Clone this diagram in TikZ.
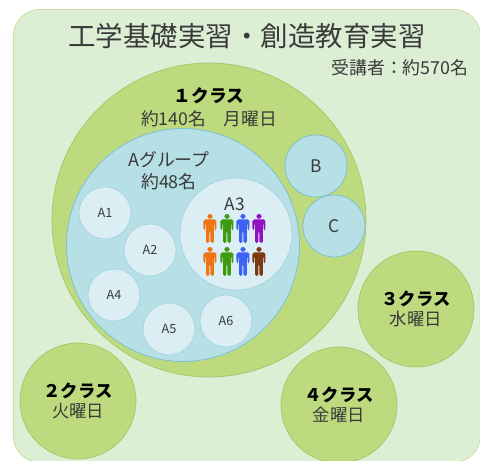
\documentclass[tikz,border=0pt]{standalone}
\usepackage{fontspec}
\setmainfont{Noto Sans CJK JP}
\usepackage{xcolor}
\definecolor{bgGreen}{HTML}{DCEFD5}
\definecolor{bgEdge}{HTML}{C9DF9A}
\definecolor{classGreen}{HTML}{BDDA7E}
\definecolor{classEdge}{HTML}{9CC76A}
\definecolor{groupBlue}{HTML}{B7DFE6}
\definecolor{groupEdge}{HTML}{7FC0D2}
\definecolor{subBlue}{HTML}{DAEEF3}
\definecolor{txtGray}{HTML}{3A3A3A}
\definecolor{manOrange}{HTML}{EE7511}
\definecolor{manGreen}{HTML}{3E9A0E}
\definecolor{manBlue}{HTML}{3D60F5}
\definecolor{manPurple}{HTML}{9012BE}
\definecolor{manBrown}{HTML}{7B3A10}
\newcommand{\wide}[1]{\symbol{\numexpr"FF10+#1\relax}} % full-width digit
\newcommand{\clsname}[1]{\textcolor{black}{\textbf{\wide{#1}クラス}}}

\begin{document}
\begin{tikzpicture}[
    x=0.75pt, y=-0.75pt, % 1 unit = 1 pixel, y runs downward
    circ/.style={circle, inner sep=0pt, minimum size=#1*1.5pt, text=txtGray, align=center},
    classc/.style={circ=#1, draw=classEdge, line width=0.5pt, fill=classGreen},
    groupc/.style={circ=#1, draw=groupEdge, line width=0.6pt, fill=groupBlue},
    subc/.style={circ=#1, draw=groupEdge!70, line width=0.5pt, fill=subBlue},
    lbl/.style={inner sep=0pt, text=txtGray, align=center},
    person/.pic={
        \fill (0,2.4) ellipse (2.6 and 2.4);
        \fill[rounded corners=1.2pt] (-6.5,16) -- (-6.5,5.4) -- (6.5,5.4) -- (6.5,16) -- (4.6,16) -- (4.6,9) -- (3.9,9)
            -- (3.9,29) -- (0.5,29) -- (0.5,17) -- (-0.5,17) -- (-0.5,29) -- (-3.9,29) -- (-3.9,9) -- (-4.6,9) -- (-4.6,16) -- cycle;
    }
    ]
    \useasboundingbox (0,0) rectangle (480,461);

    % Background
    \node [draw=bgEdge, line width=0.6pt, fill=bgGreen, rounded corners=20pt, inner sep=0pt, minimum width=467*0.75pt, minimum height=453*0.75pt, anchor=north west] (frame) at (13,9) {};
    \node [lbl, font=\fontsize{20.6pt}{24pt}\selectfont] (title) at (247,36) {工学基礎実習・創造教育実習};
    \node [lbl, font=\fontsize{13.4pt}{16pt}\selectfont] (total) at (400,68) {受講者\symbol{"FF1A}約570名};

    % Classes
    \node [classc=157] (class1) at (209,220) {};
    \node [classc=58, font=\fontsize{13pt}{15.5pt}\selectfont] (class3) at (416,309) {\clsname{3}\\水曜日};
    \node [classc=58, font=\fontsize{13pt}{15.5pt}\selectfont] (class2) at (78,401) {\clsname{2}\\火曜日};
    \node [classc=58, font=\fontsize{13pt}{15.5pt}\selectfont] (class4) at (339,405) {\clsname{4}\\金曜日};
    \node [lbl, font=\fontsize{13.3pt}{17pt}\selectfont] (class1txt) at (209,107) {\clsname{1}\\約140名\hspace{1em}月曜日};

    % Groups
    \node [groupc=116.5] (groupA) at (183,245) {};
    \node [groupc=31, font=\fontsize{13pt}{15pt}\selectfont] (groupB) at (316,166) {B};
    \node [groupc=31, font=\fontsize{13pt}{15pt}\selectfont] (groupC) at (334,226) {C};
    \node [lbl, font=\fontsize{13.4pt}{16.5pt}\selectfont] (groupAtxt) at (169,171) {Aグループ\\約48名};

    % Subgroups
    \node [subc=26, font=\fontsize{9.5pt}{11pt}\selectfont] (subA1) at (105,213) {A1};
    \node [subc=26, font=\fontsize{9.5pt}{11pt}\selectfont] (subA2) at (150,250) {A2};
    \node [subc=26, font=\fontsize{9.5pt}{11pt}\selectfont] (subA4) at (114,295) {A4};
    \node [subc=26, font=\fontsize{9.5pt}{11pt}\selectfont] (subA5) at (169,329) {A5};
    \node [subc=26, font=\fontsize{9.5pt}{11pt}\selectfont] (subA6) at (226,321) {A6};
    \node [subc=56] (subA3) at (236,234) {};
    \node [lbl, font=\fontsize{13pt}{15pt}\selectfont] (subA3txt) at (235,204) {A3};

    % People
    \foreach \px/\py/\pc in {210/214/manOrange, 227/214/manGreen, 243/214/manBlue, 259/214/manPurple,
                             210/247/manOrange, 227/247/manGreen, 243/247/manBlue, 259/247/manBrown}
        \pic [fill=\pc] at (\px,\py) {person};
\end{tikzpicture}
\end{document}
